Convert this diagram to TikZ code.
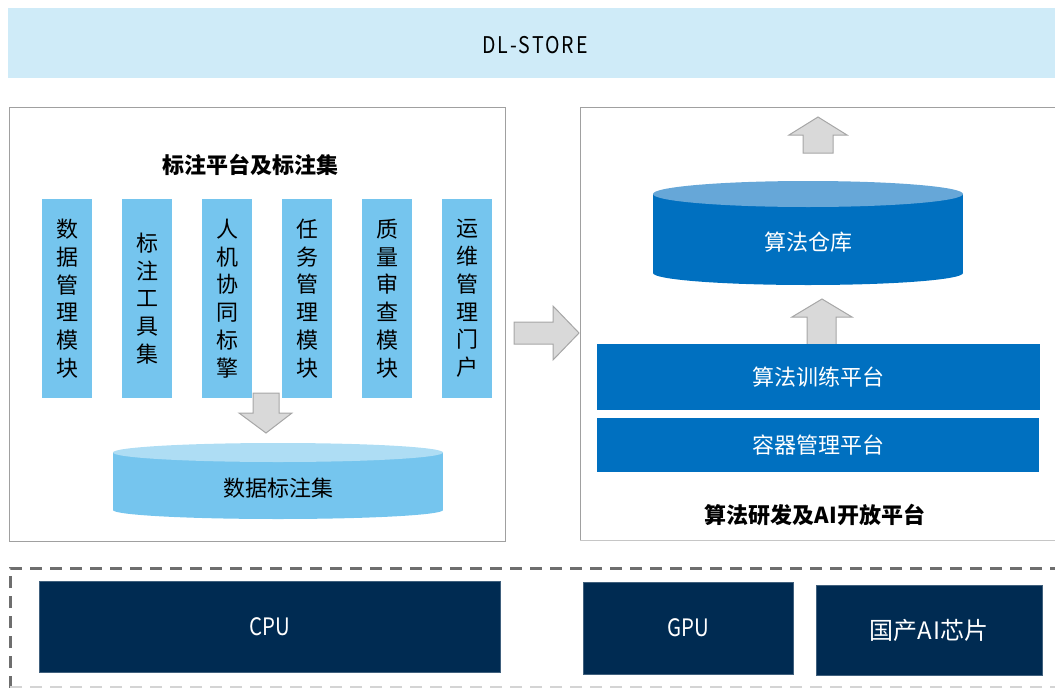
\documentclass[tikz,border=0pt]{standalone}
\usepackage{fontspec}
\setmainfont{Noto Sans CJK SC}
\newfontfamily\narrowfont{Noto Sans CJK SC}[FakeStretch=0.85]
\definecolor{barblue}{HTML}{CFEBF8}
\definecolor{colblue}{HTML}{75C5EE}
\definecolor{coltop}{HTML}{AEDDF4}
\definecolor{darkblue}{HTML}{0070C0}
\definecolor{darktop}{HTML}{66A7D8}
\definecolor{navy}{HTML}{002B52}
\definecolor{arrowfill}{HTML}{D9D9D9}
\definecolor{arrowdraw}{HTML}{A6A6A6}
\definecolor{panelgray}{HTML}{A0A0A0}
\definecolor{dashgray}{HTML}{6E6E6E}
\newcommand{\lk}{\kern1.8pt}
\tikzset{
  txt/.style={font=\fontsize{22}{27.5}\selectfont, inner sep=0pt},
  ttl/.style={font=\fontsize{22}{27.5}\selectfont\bfseries, inner sep=0pt},
  modcol/.style={fill=colblue, minimum width=50pt, minimum height=199pt, inner sep=0pt, align=center, font=\fontsize{22}{27.7}\selectfont},
  bluebar/.style={fill=darkblue, text=white, inner sep=0pt, font=\fontsize{22}{27.5}\selectfont},
  navybox/.style={fill=navy, draw=navy!75!white, line width=0.6pt, text=white, inner sep=0pt, font=\fontsize{24}{28}\selectfont},
  blockarrow/.style={fill=arrowfill, draw=arrowdraw, line width=1pt, line join=miter},
  panel/.style={draw=panelgray, line width=1pt},
  hwframe/.style={draw=dashgray, line width=3pt, dash pattern=on 12pt off 8pt},
}
\begin{document}
\begin{tikzpicture}[x=1pt,y=-1pt]
\useasboundingbox (0,0) rectangle (1055,688);
% top bar
\fill[barblue] (8,8) rectangle (1060,78);
\node[txt, font=\fontsize{23}{27.5}\narrowfont] (dlstore) at (535,45) {D\lk L\lk -\lk S\lk T\lk O\lk R\lk E};
% left panel
\draw[panel] (9,107) rectangle (505,541);
\node[ttl] (lefttitle) at (250,165) {标注平台及标注集};
\node[modcol] (m1) at (67,298.5) {数\\据\\管\\理\\模\\块};
\node[modcol] (m2) at (147,298.5) {标\\注\\工\\具\\集};
\node[modcol] (m3) at (227,298.5) {人\\机\\协\\同\\标\\擎};
\node[modcol] (m4) at (307,298.5) {任\\务\\管\\理\\模\\块};
\node[modcol] (m5) at (387,298.5) {质\\量\\审\\查\\模\\块};
\node[modcol] (m6) at (467,298.5) {运\\维\\管\\理\\门\\户};
% down arrow
\draw[blockarrow] (253,393) -- (279,393) -- (279,413) -- (292,413) -- (266,433) -- (239,413) -- (253,413) -- cycle;
% data set cylinder
\fill[colblue] (113,452.5) rectangle (443,510);
\fill[colblue] (278,510) ellipse[x radius=165pt, y radius=9pt];
\fill[coltop] (278,452.5) ellipse[x radius=165pt, y radius=9.5pt];
\node[txt] (dataset) at (278,488) {数据标注集};
% right arrow
\draw[blockarrow] (514,322) -- (553,322) -- (553,306) -- (579,333) -- (553,360) -- (553,344) -- (514,344) -- cycle;
% right panel
\draw[panel] (1060,107) -- (580,107) -- (580,540);
\draw[draw=panelgray!60, line width=1pt] (580,540) -- (1060,540);
% up arrow top
\draw[blockarrow] (803,153) -- (803,135) -- (789,135) -- (818,117) -- (847,135) -- (833,135) -- (833,153) -- cycle;
% algorithm store cylinder
\fill[darkblue] (653,194) rectangle (963,273);
\fill[darkblue] (808,273) ellipse[x radius=155pt, y radius=12pt];
\fill[darktop] (808,194) ellipse[x radius=155pt, y radius=13pt];
\node[txt, text=white] (algostore) at (808,242) {算法仓库};
% up arrow 2
\draw[blockarrow] (807,345) -- (807,317) -- (792,317) -- (822,299) -- (852,317) -- (836,317) -- (836,345) -- cycle;
\node[bluebar, minimum width=443pt, minimum height=66pt] (train) at (818.5,377) {算法训练平台};
\node[bluebar, minimum width=442pt, minimum height=54pt] (container) at (818,445) {容器管理平台};
\node[ttl] (righttitle) at (815,515) {算法研发及AI开放平台};
% hardware layer
\draw[hwframe] (10,688) -- (10,568) -- (1060,568);
\draw[draw=panelgray!45, line width=2pt, dash pattern=on 12pt off 8pt] (10,687) -- (1060,687);
\node[navybox, font=\fontsize{24}{28}\narrowfont] (cpu) at (269.5,626.5) [minimum width=461pt, minimum height=91pt] {CPU};
\node[navybox, font=\fontsize{24}{28}\narrowfont] (gpu) at (688,628) [minimum width=210pt, minimum height=92pt] {GPU};
\node[navybox, minimum width=226pt, minimum height=90pt] (aichip) at (929,630) {国产A\kern1pt I芯片};
\end{tikzpicture}
\end{document}
